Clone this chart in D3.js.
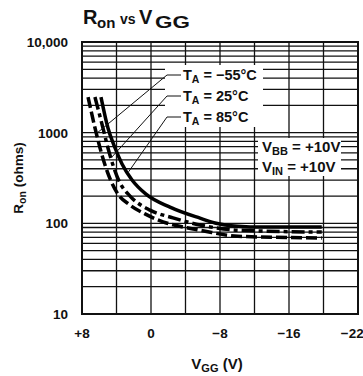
<!DOCTYPE html>
<html><head><meta charset="utf-8">
<script src="https://cdn.jsdelivr.net/npm/d3@7"></script>
<style>
html,body{margin:0;padding:0;background:#fff;}
svg{display:block;}
text{font-family:"Liberation Sans Narrow","Arial Narrow","Liberation Sans",Arial,sans-serif;font-weight:bold;fill:#111;}
text.title{font-family:"Liberation Sans",Arial,sans-serif;}
</style></head>
<body>
<svg id="chart" width="363" height="376"></svg>
<script>
// ---- data ----
const vggNeg55 = [7.3, 6.49, 5.91, 5.33, 4.64, 3.83, 2.43, 0.7, -1.39, -3.71, -5.68, -10.09, -19.8];
const ronNeg55 = [2470, 1125, 678, 440, 293, 210, 159, 127, 104, 91, 84, 72, 69];
const vgg25 = [6.5, 5.57, 4.99, 4.41, 3.71, 2.43, 0.12, -2.55, -5.68, -10.09, -19.8];
const ron25 = [2470, 1125, 678, 440, 293, 200, 140, 115, 96, 84, 80];
const vgg85 = [5.8, 4.99, 4.17, 3.36, 2.2, 0.58, -2.2, -5.68, -7.42, -10.09, -12.87, -19.8];
const ron85 = [2470, 1125, 678, 451, 301, 210, 151, 114, 101, 93, 91, 91];

const xTickValues = [8, 0, -8, -16, -22];
const xTickLabels = ["+8", "0", "\u22128", "\u221216", "\u221222"];
const yTickValues = [10, 100, 1000, 10000];
const yTickLabels = ["10", "100", "1000", "10,000"];
const seriesNames = ["\u221255\u00B0C", "25\u00B0C", "85\u00B0C"];
// leader-line anchors on each curve (V_GG, R_on)
const leaderV = [6.2, 4.52, 2.6];
const leaderR = [1000, 540, 370];

// ---- layout ----
const L = 82, R = 358, T = 42, B = 314;
const svg = d3.select("#chart");
const x = d3.scaleLinear().domain([8, -24]).range([L, R]);
const y = d3.scaleLog().domain([10, 10000]).range([B, T]);

// grid
const grid = svg.append("g").attr("stroke", "#111").attr("stroke-width", 1.3);
const vGrid = d3.range(8, -24.1, -4);
grid.selectAll("line.v").data(vGrid).join("line")
  .attr("x1", d => x(d)).attr("x2", d => x(d)).attr("y1", T).attr("y2", B);
const hGrid = [];
[10, 100, 1000].forEach(dec => { for (let k = 1; k <= 10; k++) hGrid.push(dec * k); });
grid.selectAll("line.h").data(Array.from(new Set(hGrid))).join("line")
  .attr("x1", L).attr("x2", R).attr("y1", d => y(d)).attr("y2", d => y(d));

// white boxes behind annotations (cover grid)
svg.append("rect").attr("x", 165).attr("y", 65).attr("width", 98).attr("height", 62).attr("fill", "#fff");
svg.append("rect").attr("x", 258).attr("y", 138).attr("width", 83).attr("height", 38).attr("fill", "#fff");

// frame
svg.append("rect").attr("x", L).attr("y", T).attr("width", R - L).attr("height", B - T)
  .attr("fill", "none").attr("stroke", "#111").attr("stroke-width", 2);

// curves
svg.append("clipPath").attr("id", "clip").append("rect")
  .attr("x", L).attr("y", T).attr("width", R - L).attr("height", B - T);
const line = d3.line().x(d => x(d[0])).y(d => y(d[1])).curve(d3.curveMonotoneX);
const series = [
  { v: vggNeg55, r: ronNeg55, dash: "11,4" },
  { v: vgg25, r: ron25, dash: "13,4,4,4" },
  { v: vgg85, r: ron85, dash: null }
];
const cg = svg.append("g").attr("clip-path", "url(#clip)");
series.forEach(s => {
  cg.append("path").datum(s.v.map((v, i) => [v, s.r[i]]))
    .attr("d", line).attr("fill", "none").attr("stroke", "#000")
    .attr("stroke-width", 3.5).attr("stroke-dasharray", s.dash);
});

// labels with leader lines
const labelY = [75, 96, 117];
seriesNames.forEach((name, i) => {
  const ly = labelY[i];
  svg.append("path")
    .attr("d", `M${x(leaderV[i])},${y(leaderR[i])}L167,${ly}L181,${ly}`)
    .attr("fill", "none").attr("stroke", "#111").attr("stroke-width", 1);
  const t = svg.append("text").attr("x", 183).attr("y", ly + 5).attr("font-size", 14.5);
  t.append("tspan").text("T");
  t.append("tspan").attr("font-size", 10.5).attr("dy", 3).text("A");
  t.append("tspan").attr("dy", -3).text(" = " + name);
});

// V_BB / V_IN
[["BB", 152], ["IN", 172]].forEach(([sub, yy]) => {
  const t = svg.append("text").attr("x", 262).attr("y", yy).attr("font-size", 15);
  t.append("tspan").text("V");
  t.append("tspan").attr("font-size", 11).attr("dy", 3).text(sub);
  t.append("tspan").attr("dy", -3).text(" = +10V");
});

// y axis labels
svg.selectAll("text.yt").data(yTickValues).join("text")
  .attr("x", 68).attr("y", d => y(d) + 5).attr("text-anchor", "end").attr("font-size", 13.5)
  .text((d, i) => yTickLabels[i]);

// x axis labels
svg.selectAll("text.xt").data(xTickValues).join("text")
  .attr("x", d => x(d)).attr("y", 338)
  .attr("text-anchor", (d, i) => i === xTickValues.length - 1 ? "start" : "middle")
  .attr("font-size", 13.5).text((d, i) => xTickLabels[i]);

// x title
const xt = svg.append("text").attr("x", 217).attr("y", 369).attr("text-anchor", "middle").attr("font-size", 15);
xt.append("tspan").text("V");
xt.append("tspan").attr("font-size", 11).attr("dy", 3).text("GG");
xt.append("tspan").attr("dy", -3).text(" (V)");

// y title
const yt = svg.append("text").attr("transform", "translate(23,178) rotate(-90)")
  .attr("text-anchor", "middle").attr("font-size", 13.5);
yt.append("tspan").text("R");
yt.append("tspan").attr("font-size", 10.5).attr("dy", 3).text("on");
yt.append("tspan").attr("dy", -3).text(" (ohms)");

// title
const tg = svg.append("g");
tg.append("text").attr("class", "title").attr("x", 83).attr("y", 24).attr("font-size", 20).text("R");
tg.append("text").attr("class", "title").attr("x", 97).attr("y", 28).attr("font-size", 15).text("on");
tg.append("text").attr("class", "title").attr("x", 120).attr("y", 24).attr("font-size", 14).text("vs");
tg.append("text").attr("class", "title").attr("x", 139).attr("y", 24).attr("font-size", 20).text("V");
tg.append("text").attr("class", "title").attr("transform", "translate(155,28) scale(1.4,1)")
  .attr("font-size", 16).text("GG");
</script>
</body></html>
